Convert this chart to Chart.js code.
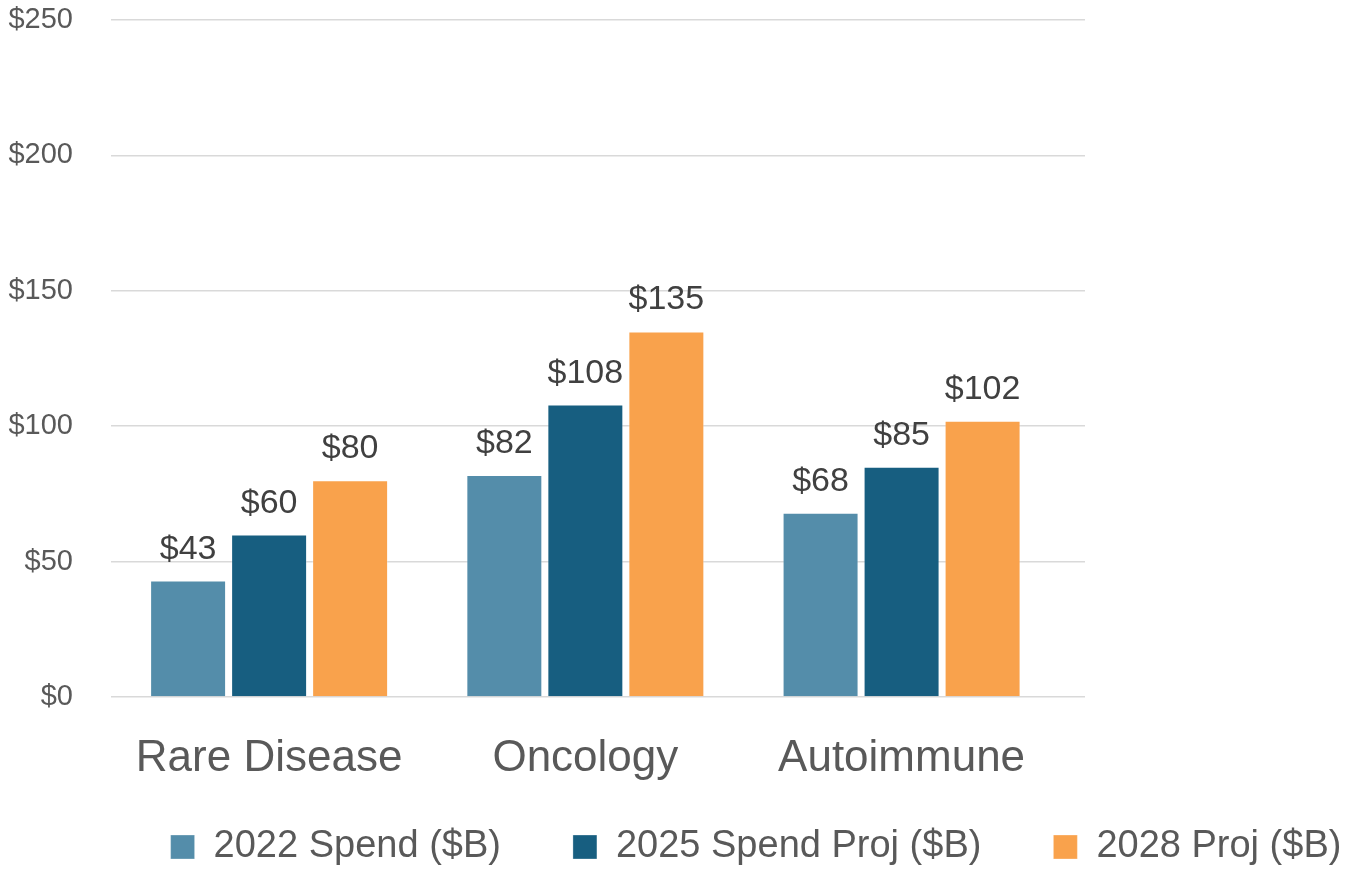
<!DOCTYPE html>
<html>
<head>
<meta charset="utf-8">
<script src="https://cdn.jsdelivr.net/npm/chart.js@4.4.1/dist/chart.umd.min.js"></script>
<style>
  html, body { margin: 0; padding: 0; background: #fff; }
  #wrap { width: 1346px; height: 870px; }
</style>
</head>
<body>
<div id="wrap"><canvas id="spendChart" width="1346" height="870"></canvas></div>
<script>
const categories = ['Rare Disease', 'Oncology', 'Autoimmune'];
const seriesNames = ['2022 Spend ($B)', '2025 Spend Proj ($B)', '2028 Proj ($B)'];
const spend2022 = [43, 82, 68];
const spend2025 = [60, 108, 85];
const proj2028 = [80, 135, 102];
const yTickValues = [0, 50, 100, 150, 200, 250];

const colors = ['#548DAA', '#175E80', '#F9A24C'];
const FONT = "'Liberation Sans', Arial, sans-serif";

// linear x so the group spacing can match the picture
function points(values) {
    return values.map((v, i) => ({ x: i, y: v }));
}

const barLabels = {
    id: 'barLabels',
    afterDatasetsDraw(chart) {
        const ctx = chart.ctx;
        ctx.save();
        ctx.font = '34px ' + FONT;
        ctx.fillStyle = '#404040';
        ctx.textAlign = 'center';
        ctx.textBaseline = 'alphabetic';
        chart.data.datasets.forEach((ds, i) => {
            chart.getDatasetMeta(i).data.forEach((bar, j) => {
                ctx.fillText('$' + ds.data[j].y, bar.x, bar.y - 22);
            });
        });
        ctx.restore();
    }
};

// legend sits right of centre in the original, move it after layout
const legendShift = {
    id: 'legendShift',
    afterLayout(chart) {
        const lg = chart.legend;
        lg.left += 83;
        lg.right += 83;
        lg.top -= 36;
        lg.bottom = chart.height;
    }
};

const ctx = document.getElementById('spendChart').getContext('2d');
const spendChart = new Chart(ctx, {
    type: 'bar',
    data: {
        datasets: [
            { label: seriesNames[0], data: points(spend2022), backgroundColor: colors[0] },
            { label: seriesNames[1], data: points(spend2025), backgroundColor: colors[1] },
            { label: seriesNames[2], data: points(proj2028), backgroundColor: colors[2] }
        ]
    },
    options: {
        responsive: false,
        animation: false,
        devicePixelRatio: 1,
        categoryPercentage: 0.7685,
        barPercentage: 0.938,
        borderWidth: 1,
        borderColor: 'rgba(255,255,255,0.3)',
        layout: { padding: { top: 20, left: 0, right: 0, bottom: 0 } },
        plugins: {
            tooltip: { enabled: false },
            legend: {
                position: 'bottom',
                maxHeight: 78,
                labels: {
                    font: { family: FONT, size: 38 },
                    color: '#595959',
                    boxWidth: 24,
                    boxHeight: 24,
                    padding: 72
                }
            }
        },
        scales: {
            x: {
                type: 'linear',
                offset: false,
                min: -0.5,
                max: 2.58,
                grid: { display: false, drawTicks: false, offset: false },
                border: { display: false },
                afterBuildTicks: (axis) => {
                    axis.ticks = categories.map((c, i) => ({ value: i }));
                },
                afterFit: (axis) => { axis.height = 95; },
                ticks: {
                    callback: (v) => categories[v],
                    font: { family: FONT, size: 44 },
                    color: '#595959',
                    padding: 35,
                    maxRotation: 0,
                    autoSkip: false
                }
            },
            y: {
                min: 0,
                max: 250,
                afterBuildTicks: (axis) => {
                    axis.ticks = yTickValues.map(v => ({ value: v }));
                },
                afterFit: (axis) => {
                    axis.width = 111;
                    axis.paddingTop = 17;
                    axis.paddingBottom = 17;
                },
                grid: { color: '#D9D9D9', lineWidth: 1.5, drawTicks: false },
                border: { display: false },
                ticks: {
                    callback: (v) => '$' + v,
                    font: { family: FONT, size: 29 },
                    color: '#595959',
                    padding: 38
                }
            },
            y2: {
                position: 'right',
                grid: { display: false, drawTicks: false },
                border: { display: false },
                ticks: { display: false },
                afterFit: (axis) => { axis.width = 261; }
            }
        }
    },
    plugins: [barLabels, legendShift]
});
</script>
</body>
</html>
